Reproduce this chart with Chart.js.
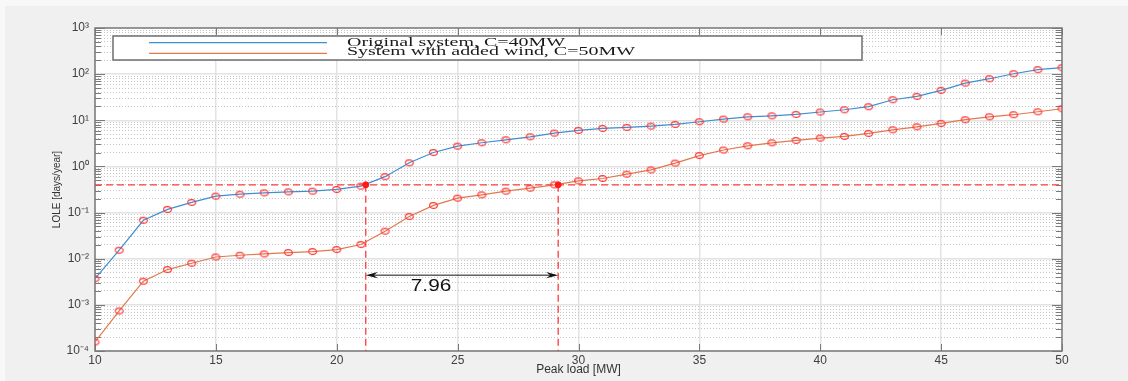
<!DOCTYPE html>
<html>
<head>
<meta charset="utf-8">
<script src="https://cdn.jsdelivr.net/npm/chart.js@4.4.1/dist/chart.umd.min.js"></script>
<style>
  html, body { margin: 0; padding: 0; background: #f8f8f8; }
  #wrap { position: absolute; left: 5px; top: 6px; width: 1123px; height: 375px; }
</style>
</head>
<body>
<div id="wrap"><canvas id="lole" width="1123" height="375"></canvas></div>
<script>
// peak load (MW) and LOLE (days/year)
const peakLoads = [10, 11, 12, 13, 14, 15, 16, 17, 18, 19, 20, 21, 22, 23, 24, 25, 26, 27, 28, 29, 30,
                   31, 32, 33, 34, 35, 36, 37, 38, 39, 40, 41, 42, 43, 44, 45, 46, 47, 48, 49, 50];
const loleOriginal = [0.0037, 0.0153, 0.068, 0.117, 0.166, 0.227, 0.25, 0.268, 0.281, 0.291, 0.317,
                      0.374, 0.6, 1.2, 2.0, 2.75, 3.26, 3.78, 4.39, 5.28, 6.03,
                      6.67, 7.0, 7.48, 8.14, 9.3, 10.6, 11.9, 12.5, 13.4, 15.1,
                      16.9, 19.7, 27.9, 33, 44.5, 64, 79.6, 102, 125, 138];
const loleWithWind = [0.000157, 0.000738, 0.00325, 0.00582, 0.00798, 0.0109, 0.0119, 0.0127, 0.0136, 0.0143, 0.0158,
                      0.0203, 0.0395, 0.082, 0.143, 0.205, 0.242, 0.291, 0.338, 0.399, 0.487,
                      0.548, 0.68, 0.84, 1.18, 1.72, 2.27, 2.8, 3.25, 3.66, 4.11,
                      4.47, 5.2, 6.22, 7.23, 8.57, 10.3, 11.9, 13.2, 15.3, 17.8];
const seriesNames = ['Original system, C=40MW', 'System with added wind, C=50MW'];

// axes
const xMin = 10, xMax = 50;
const yMin = 1e-4, yMax = 1e3;
const xTicks = [10, 15, 20, 25, 30, 35, 40, 45, 50];
const yDecades = [1e-4, 1e-3, 1e-2, 1e-1, 1, 10, 100, 1000];
const yDecadeLabels = ['10\u207B\u2074', '10\u207B\u00B3', '10\u207B\u00B2', '10\u207B\u00B9', '10\u2070', '10\u00B9', '10\u00B2', '10\u00B3'];
const minorSteps = [2, 3, 4, 5, 6, 7, 8, 9];

// reliability target and the capacity gap annotation
const targetLole = 0.4;
const crossLoads = [21.2, 29.16];
const arrowLole = 0.0044;
const gapLabelAt = [23.9, 0.0025];

const blue = '#3f8fd0';
const orange = '#e2784b';
const red = '#ff3a3a';

const yMinor = yDecades.slice(0, -1).flatMap(d => minorSteps.map(m => m * d));

// hollow red "o" marker, a bit wider than tall like the picture
function ringMarker() {
  const c = document.createElement('canvas');
  c.width = 11; c.height = 9;
  const g = c.getContext('2d');
  g.strokeStyle = '#ff3030';
  g.lineWidth = 1.1;
  g.beginPath();
  g.ellipse(5.5, 4.5, 3.9, 2.9, 0, 0, Math.PI * 2);
  g.stroke();
  return c;
}
const ring = ringMarker();

const toPoints = (xs, ys) => xs.map((v, i) => ({ x: v, y: ys[i] }));

// grey figure background, white axes, box and inward ticks
const frame = {
  id: 'frame',
  beforeDraw(chart) {
    const { ctx, chartArea: a } = chart;
    ctx.save();
    ctx.fillStyle = '#f0f0f0';
    ctx.fillRect(0, 0, chart.width, chart.height);
    ctx.fillStyle = '#ffffff';
    ctx.fillRect(a.left, a.top, a.right - a.left, a.bottom - a.top);
    ctx.restore();
  },
  beforeDatasetsDraw(chart) {
    const { ctx, chartArea: a, scales } = chart;
    ctx.save();
    ctx.strokeStyle = '#7a7a7a';
    ctx.lineWidth = 1;
    ctx.beginPath();
    scales.y.ticks.forEach(t => {
      const p = Math.round(scales.y.getPixelForValue(t.value)) + 0.5;
      ctx.moveTo(a.left, p); ctx.lineTo(a.left + 10, p);
      ctx.moveTo(a.right, p); ctx.lineTo(a.right - 10, p);
    });
    scales.y2.ticks.forEach(t => {
      const p = Math.round(scales.y2.getPixelForValue(t.value)) + 0.5;
      ctx.moveTo(a.left, p); ctx.lineTo(a.left + 6, p);
      ctx.moveTo(a.right, p); ctx.lineTo(a.right - 6, p);
    });
    scales.x.ticks.forEach(t => {
      const p = Math.round(scales.x.getPixelForValue(t.value)) + 0.5;
      ctx.moveTo(p, a.bottom); ctx.lineTo(p, a.bottom - 7);
      ctx.moveTo(p, a.top); ctx.lineTo(p, a.top + 7);
    });
    ctx.stroke();
    ctx.lineWidth = 1.5;
    ctx.strokeRect(a.left, a.top, a.right - a.left, a.bottom - a.top);
    ctx.restore();
  }
};

// double arrow between the two crossings and its label
const gapArrow = {
  id: 'gapArrow',
  afterDatasetsDraw(chart) {
    const { ctx, scales: { x, y } } = chart;
    const x1 = x.getPixelForValue(crossLoads[0]);
    const x2 = x.getPixelForValue(crossLoads[1]);
    const yy = y.getPixelForValue(arrowLole);
    ctx.save();
    ctx.strokeStyle = '#111';
    ctx.fillStyle = '#111';
    ctx.lineWidth = 1;
    ctx.beginPath();
    ctx.moveTo(x1 + 4, yy); ctx.lineTo(x2 - 4, yy);
    ctx.stroke();
    [[x1, 1], [x2, -1]].forEach(([px, dir]) => {
      ctx.beginPath();
      ctx.moveTo(px, yy);
      ctx.lineTo(px + dir * 12, yy - 3.2);
      ctx.lineTo(px + dir * 8, yy);
      ctx.lineTo(px + dir * 12, yy + 3.2);
      ctx.closePath();
      ctx.fill();
    });
    ctx.font = '16px "Liberation Sans", Arial, sans-serif';
    ctx.textAlign = 'center';
    ctx.textBaseline = 'middle';
    ctx.translate(x.getPixelForValue(gapLabelAt[0]), y.getPixelForValue(gapLabelAt[1]));
    ctx.scale(1.3, 1);
    ctx.fillText((crossLoads[1] - crossLoads[0]).toFixed(2), 0, 0);
    ctx.restore();
  }
};

// MATLAB style boxed legend with serif text
const serifLegend = {
  id: 'serifLegend',
  afterDatasetsDraw(chart) {
    const { ctx, chartArea: a } = chart;
    const left = a.left + 18, top = a.top + 8, w = 749, h = 24;
    ctx.save();
    ctx.fillStyle = '#ffffff';
    ctx.fillRect(left, top, w, h);
    ctx.strokeStyle = '#6e6e6e';
    ctx.lineWidth = 1.5;
    ctx.strokeRect(left, top, w, h);
    ctx.font = '12px "Liberation Serif", "DejaVu Serif", serif';
    const sx = 288 / ctx.measureText(seriesNames[1]).width;
    const rows = [
      { color: blue, lineY: top + 6.7, baseY: top + 9.7, text: seriesNames[0] },
      { color: orange, lineY: top + 17.3, baseY: top + 18.5, text: seriesNames[1] }
    ];
    rows.forEach(r => {
      ctx.strokeStyle = r.color;
      ctx.lineWidth = 1.2;
      ctx.beginPath();
      ctx.moveTo(left + 36, r.lineY); ctx.lineTo(left + 214, r.lineY);
      ctx.stroke();
      ctx.save();
      ctx.fillStyle = '#1a1a1a';
      ctx.textBaseline = 'alphabetic';
      ctx.translate(left + 234, r.baseY);
      ctx.scale(sx, 1);
      ctx.fillText(r.text, 0, 0);
      ctx.restore();
    });
    ctx.restore();
  }
};

const tickFont = { family: '"Liberation Sans", Arial, sans-serif', size: 12 };

new Chart(document.getElementById('lole'), {
  type: 'scatter',
  data: {
    datasets: [
      {
        label: 'crossings',
        data: crossLoads.map(v => ({ x: v, y: targetLole })),
        showLine: false,
        pointStyle: 'circle',
        pointRadius: 3,
        backgroundColor: '#ff1a1a',
        borderColor: '#ff1a1a'
      },
      {
        label: seriesNames[0],
        data: toPoints(peakLoads, loleOriginal),
        showLine: true,
        borderColor: blue,
        borderWidth: 1.2,
        pointStyle: ring,
        pointRadius: 4
      },
      {
        label: seriesNames[1],
        data: toPoints(peakLoads, loleWithWind),
        showLine: true,
        borderColor: orange,
        borderWidth: 1.2,
        pointStyle: ring,
        pointRadius: 4
      },
      {
        label: 'target',
        data: [{ x: xMin, y: targetLole }, { x: xMax, y: targetLole }],
        showLine: true,
        borderColor: red,
        borderWidth: 1.3,
        borderDash: [7, 4],
        pointRadius: 0
      },
      {
        label: 'cross1',
        data: [{ x: crossLoads[0], y: targetLole }, { x: crossLoads[0], y: yMin }],
        showLine: true,
        borderColor: red,
        borderWidth: 1.3,
        borderDash: [7, 4],
        pointRadius: 0
      },
      {
        label: 'cross2',
        data: [{ x: crossLoads[1], y: targetLole }, { x: crossLoads[1], y: yMin }],
        showLine: true,
        borderColor: red,
        borderWidth: 1.3,
        borderDash: [7, 4],
        pointRadius: 0
      }
    ]
  },
  options: {
    responsive: false,
    animation: false,
    events: [],
    layout: { padding: { left: 0, right: 0, top: 22, bottom: 0 } },
    plugins: {
      legend: { display: false },
      tooltip: { enabled: false }
    },
    scales: {
      x: {
        type: 'linear',
        min: xMin,
        max: xMax,
        afterBuildTicks: s => { s.ticks = xTicks.map(v => ({ value: v })); },
        afterFit: s => { s.height = 30; },
        grid: { color: '#e3e3e3', lineWidth: 1.5, drawTicks: false },
        border: { display: false },
        ticks: { padding: 2, color: '#404040', font: tickFont, maxRotation: 0, autoSkip: false },
        title: {
          display: true,
          text: 'Peak load [MW]',
          color: '#333',
          font: tickFont,
          padding: { top: 0, bottom: 4 }
        }
      },
      y: {
        type: 'logarithmic',
        position: 'left',
        min: yMin,
        max: yMax,
        afterBuildTicks: s => { s.ticks = yDecades.map(v => ({ value: v })); },
        afterFit: s => { s.width = 90; },
        grid: { color: '#e3e3e3', lineWidth: 1.5, drawTicks: false },
        border: { display: false },
        ticks: {
          padding: 6,
          color: '#404040',
          font: tickFont,
          autoSkip: false,
          callback: (v, i) => yDecadeLabels[i]
        },
        title: {
          display: true,
          text: 'LOLE [days/year]',
          color: '#333',
          font: { family: '"Liberation Sans", Arial, sans-serif', size: 10 },
          padding: { top: 46, bottom: 0 }
        }
      },
      y2: {
        type: 'logarithmic',
        position: 'right',
        min: yMin,
        max: yMax,
        afterBuildTicks: s => { s.ticks = yMinor.map(v => ({ value: v })); },
        afterFit: s => { s.width = 66; },
        grid: { color: '#c6c6c6', lineWidth: 1, drawTicks: false },
        border: { display: false, dash: [1, 2] },
        ticks: { display: false }
      }
    }
  },
  plugins: [frame, gapArrow, serifLegend]
});
</script>
</body>
</html>
